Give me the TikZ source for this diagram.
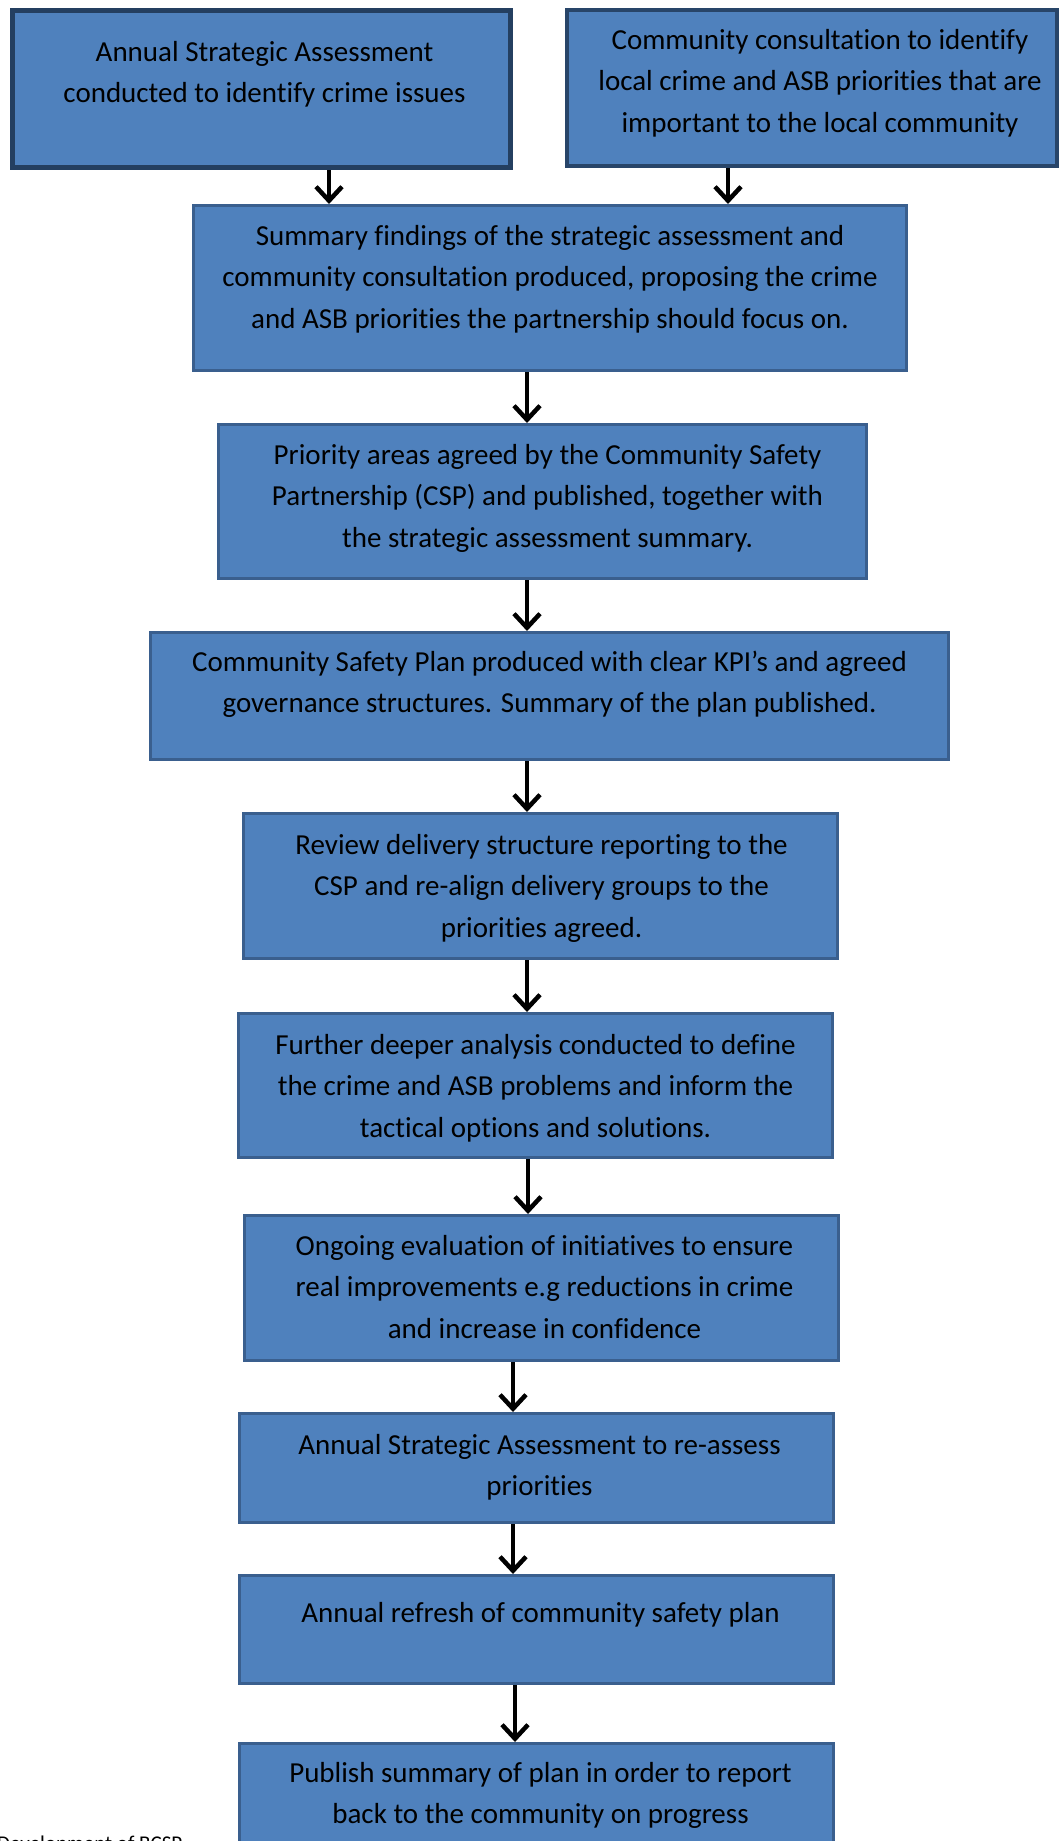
\documentclass[tikz,border=0pt]{standalone}
\usepackage{fontspec}
\setmainfont{Carlito}[Ligatures=NoCommon]
\usetikzlibrary{arrows.meta}
\definecolor{boxfill}{HTML}{4F81BD}
\definecolor{boxline}{HTML}{3A5F8E}
\definecolor{boxdark}{HTML}{243F60}
\tikzset{
  box/.style={rectangle, draw=boxline, fill=boxfill, line width=3pt, inner sep=0pt, anchor=north west},
  darkbox/.style={box, draw=boxdark, line width=5pt},
  midbox/.style={box, draw=boxdark!80!boxline, line width=4pt},
  txt/.style={align=center, inner sep=0pt, anchor=north, font=\fontsize{29}{41.5}\selectfont},
  arr/.style={line width=4.5pt, -{Straight Barb[length=14pt,width=26pt,line width=4.5pt]}},
}
\newcommand{\fl}{\rule{0pt}{24pt}}
\begin{document}
\begin{tikzpicture}[x=1pt,y=-1pt]
\useasboundingbox (0,0) rectangle (1061,1841);
\clip (0,0) rectangle (1061,1841);
\node[darkbox, minimum width=498pt, minimum height=157pt] (b1) at (10,8) {};
\node[midbox, minimum width=490pt, minimum height=156pt] (b2) at (565,8) {};
\node[box, minimum width=713pt, minimum height=165pt] (b3) at (192,204) {};
\node[box, minimum width=648pt, minimum height=154pt] (b4) at (217,423) {};
\node[box, minimum width=798pt, minimum height=127pt] (b5) at (149,631) {};
\node[box, minimum width=594pt, minimum height=145pt] (b6) at (242,812) {};
\node[box, minimum width=594pt, minimum height=144pt] (b7) at (237,1012) {};
\node[box, minimum width=594pt, minimum height=145pt] (b8) at (243,1214) {};
\node[box, minimum width=594pt, minimum height=109pt] (b9) at (238,1412) {};
\node[box, minimum width=594pt, minimum height=108pt] (b10) at (238,1574) {};
\node[box, minimum width=594pt, minimum height=160pt] (b11) at (238,1742) {};

\node[txt] (t1) at ([xshift=3pt,yshift=-29pt]b1.north) {\fl Annual Strategic Assessment\\conducted to identify crime issues};
\node[txt] (t2) at ([xshift=8pt,yshift=-17pt]b2.north) {\fl Community consultation to identify\\local crime and ASB priorities that are\\important to the local community};
\node[txt] (t3) at ([yshift=-17pt]b3.north) {\fl Summary findings of the strategic assessment and\\community consultation produced, proposing the crime\\and ASB priorities the partnership should focus on.};
\node[txt] (t4) at ([xshift=5pt,yshift=-17pt]b4.north) {\fl Priority areas agreed by the Community Safety\\Partnership (CSP) and published, together with\\the strategic assessment summary.};
\node[txt] (t5) at ([yshift=-16pt]b5.north) {\fl Community Safety Plan produced with clear KPI’s and agreed\\governance structures. Summary of the plan published.};
\node[txt] (t6) at ([xshift=1pt,yshift=-18pt]b6.north) {\fl Review delivery structure reporting to the\\CSP and re-align delivery groups to the\\priorities agreed.};
\node[txt] (t7) at ([yshift=-18pt]b7.north) {\fl Further deeper analysis conducted to define\\the crime and ASB problems and inform the\\tactical options and solutions.};
\node[txt] (t8) at ([xshift=3pt,yshift=-17pt]b8.north) {\fl Ongoing evaluation of initiatives to ensure\\real improvements e.g reductions in crime\\and increase in confidence};
\node[txt] (t9) at ([xshift=3pt,yshift=-18pt]b9.north) {\fl Annual Strategic Assessment to re-assess\\priorities};
\node[txt] (t10) at ([xshift=4pt,yshift=-24pt]b10.north) {\fl Annual refresh of community safety plan};
\node[txt] (t11) at ([xshift=4pt,yshift=-16pt]b11.north) {\fl Publish summary of plan in order to report\\back to the community on progress};

\node[anchor=north west, inner sep=0pt, font=\fontsize{21}{25}\selectfont] (foot) at (-3,1836) {Development of BCSP};

\draw[arr] (b1.south -| 329,0) -- (b3.north -| 329,0);
\draw[arr] (b2.south -| 728,0) -- (b3.north -| 728,0);
\draw[arr] (b3.south -| 527,0) -- (b4.north -| 527,0);
\draw[arr] (b4.south -| 527,0) -- (b5.north -| 527,0);
\draw[arr] (b5.south -| 527,0) -- (b6.north -| 527,0);
\draw[arr] (b6.south -| 527,0) -- (b7.north -| 527,0);
\draw[arr] (b7.south -| 528,0) -- (b8.north -| 528,0);
\draw[arr] (b8.south -| 513,0) -- (b9.north -| 513,0);
\draw[arr] (b9.south -| 513,0) -- (b10.north -| 513,0);
\draw[arr] (b10.south -| 515,0) -- (b11.north -| 515,0);
\end{tikzpicture}
\end{document}
